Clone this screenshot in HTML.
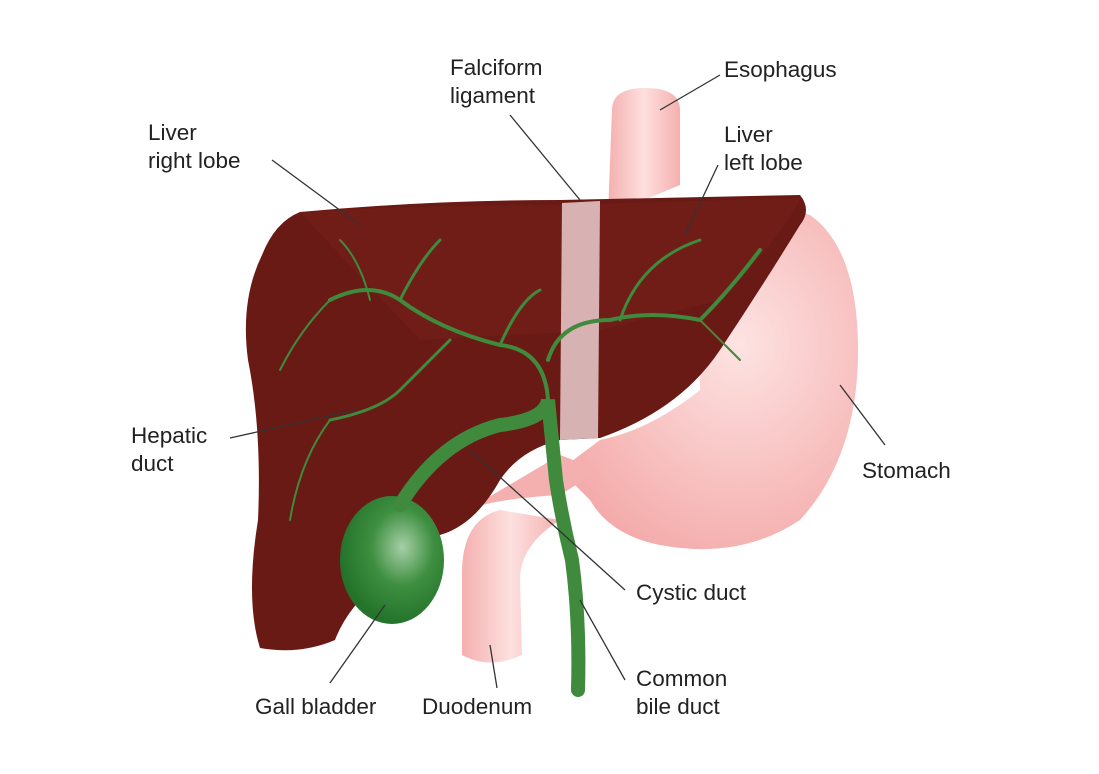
<!DOCTYPE html>
<html><head><meta charset="utf-8"><style>
html,body{margin:0;padding:0;background:#fff}
svg{display:block}
text{font-family:"Liberation Sans",sans-serif;font-size:22.5px;fill:#222}
</style></head><body>
<svg width="1099" height="774" viewBox="0 0 1099 774">
<defs>
<radialGradient id="st" cx="0.6" cy="0.4" r="0.7"><stop offset="0" stop-color="#fde3e2"/><stop offset="1" stop-color="#f3a9a8"/></radialGradient>
<radialGradient id="gb" cx="0.6" cy="0.4" r="0.6"><stop offset="0" stop-color="#a7cfa6"/><stop offset="0.5" stop-color="#3e8f41"/><stop offset="1" stop-color="#23732a"/></radialGradient>
<linearGradient id="pk" x1="0" x2="1"><stop offset="0" stop-color="#f4b0af"/><stop offset="0.5" stop-color="#fde0df"/><stop offset="1" stop-color="#f4b0af"/></linearGradient>
</defs>
<path d="M612,110 Q612,88 645,88 Q680,88 680,110 L680,185 L608,215 Z" fill="url(#pk)"/>
<path d="M700,215 Q760,200 810,215 Q860,250 858,360 Q855,460 800,520 Q740,560 660,545 Q610,535 590,500 L560,470 L600,440 Q650,430 700,390 Z" fill="url(#st)"/>
<path d="M500,510 Q460,520 462,580 L462,655 Q490,670 522,655 L520,580 Q520,545 560,520 Z" fill="url(#pk)"/>
<path d="M450,520 Q470,500 560,495 L600,470 L560,455 Z" fill="#f4b0af"/>
<path d="M300,212 Q430,200 560,200 L800,195 Q812,210 800,225 Q760,290 720,350 Q680,410 600,438 L560,440 Q520,450 500,480 Q475,525 440,535 L400,565 Q350,600 335,640 Q300,655 260,648 Q245,600 258,520 Q262,430 248,360 Q240,300 262,255 Q275,222 300,212 Z" fill="#6a1a15"/>
<path d="M300,212 Q430,205 560,205 L800,198 Q780,240 720,300 L600,330 L420,340 Z" fill="#7a2520" opacity="0.35"/>
<path d="M562,203 L600,201 L598,438 L560,440 Z" fill="#e3c3c3" opacity="0.9"/>
<ellipse cx="392" cy="560" rx="52" ry="64" fill="url(#gb)"/>
<g fill="none" stroke="#3f8a3c" stroke-linecap="round">
<path d="M400,505 Q440,440 500,425 Q545,420 548,400 L556,480 Q562,520 572,560 Q580,620 578,690" stroke-width="14"/>
<path d="M548,400 Q545,350 500,345 Q440,330 400,300 Q370,280 330,300" stroke-width="4"/>
<path d="M450,340 Q420,370 400,390 Q380,410 330,420" stroke-width="3"/>
<path d="M548,360 Q560,320 610,320 Q650,310 700,320 Q730,290 760,250" stroke-width="4"/>
<path d="M620,320 Q640,260 700,240" stroke-width="3"/>
<path d="M500,345 Q520,300 540,290" stroke-width="3"/>
<path d="M400,300 Q420,260 440,240" stroke-width="3"/>
<path d="M330,300 Q300,330 280,370" stroke-width="2"/>
<path d="M330,420 Q300,460 290,520" stroke-width="2"/>
<path d="M370,300 Q360,260 340,240" stroke-width="2"/>
<path d="M700,320 Q720,340 740,360" stroke-width="2"/>
</g>
<g stroke="#333" stroke-width="1.3" fill="none">
<line x1="272" y1="160" x2="360" y2="225"/>
<line x1="510" y1="115" x2="580" y2="200"/>
<line x1="660" y1="110" x2="720" y2="75"/>
<line x1="718" y1="165" x2="685" y2="235"/>
<line x1="230" y1="438" x2="355" y2="410"/>
<line x1="840" y1="385" x2="885" y2="445"/>
<line x1="470" y1="450" x2="625" y2="590"/>
<line x1="580" y1="600" x2="625" y2="680"/>
<line x1="330" y1="683" x2="385" y2="605"/>
<line x1="490" y1="645" x2="497" y2="688"/>
</g>
<text x="148" y="140">Liver</text><text x="148" y="168">right lobe</text>
<text x="450" y="75">Falciform</text><text x="450" y="103">ligament</text>
<text x="724" y="77">Esophagus</text>
<text x="724" y="142">Liver</text><text x="724" y="170">left lobe</text>
<text x="131" y="443">Hepatic</text><text x="131" y="471">duct</text>
<text x="862" y="478">Stomach</text>
<text x="636" y="600">Cystic duct</text>
<text x="636" y="686">Common</text><text x="636" y="714">bile duct</text>
<text x="255" y="714">Gall bladder</text>
<text x="422" y="714">Duodenum</text>
</svg>
</body></html>
